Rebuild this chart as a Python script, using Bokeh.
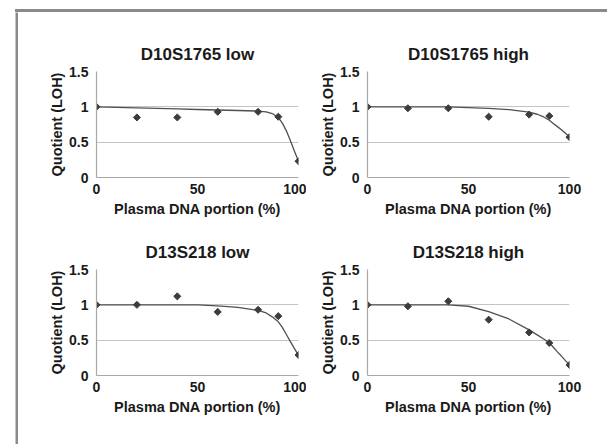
from bokeh.plotting import figure
from bokeh.layouts import row, column
from bokeh.models import FixedTicker, NumeralTickFormatter, Div
from bokeh.embed import file_html
from bokeh.resources import INLINE

# ---- data ----
x_points = [0, 20, 40, 60, 80, 90, 100]
d10_low = [1.0, 0.85, 0.85, 0.93, 0.93, 0.86, 0.23]
d10_high = [1.0, 0.98, 0.98, 0.86, 0.89, 0.87, 0.57]
d13_low = [1.0, 1.0, 1.12, 0.90, 0.93, 0.84, 0.29]
d13_high = [1.0, 0.98, 1.05, 0.79, 0.61, 0.46, 0.15]

x_curve = [0, 20, 40, 50, 60, 70, 80, 84, 87, 90, 92, 94, 96, 98, 100]
d10_low_fit = [1.0, 0.985, 0.97, 0.962, 0.955, 0.948, 0.94, 0.93, 0.905, 0.85, 0.77, 0.66, 0.52, 0.37, 0.23]
d10_high_fit = [1.0, 1.0, 0.998, 0.99, 0.978, 0.96, 0.925, 0.895, 0.86, 0.81, 0.765, 0.72, 0.675, 0.625, 0.573]
d13_low_fit = [1.0, 1.0, 1.0, 0.998, 0.985, 0.965, 0.92, 0.885, 0.83, 0.76, 0.68, 0.58, 0.48, 0.38, 0.286]
d13_high_fit = [1.0, 1.0, 1.0, 0.98, 0.905, 0.8, 0.645, 0.575, 0.52, 0.465, 0.40, 0.335, 0.275, 0.21, 0.15]

titles = ["D10S1765 low", "D10S1765 high", "D13S218 low", "D13S218 high"]
x_label = "Plasma DNA portion (%)"
y_label = "Quotient (LOH)"
x_ticks = [0, 50, 100]
y_ticks = [0, 0.5, 1, 1.5]

FONT = "Liberation Sans"
TEXT = "#1a1a1a"
BORDER = "#8a8a8a"


def make_plot(title, pts, fit, left, right, top, bottom):
    p = figure(output_backend="svg", toolbar_location=None,
               frame_width=202, frame_height=106,
               min_border_left=left, min_border_right=right,
               min_border_top=top, min_border_bottom=bottom,
               x_range=(0, 100), y_range=(0, 1.5), title=title)
    p.outline_line_color = None
    p.background_fill_color = "white"
    p.border_fill_color = "white"
    p.title.align = "center"
    p.title.text_font = FONT
    p.title.text_font_style = "bold"
    p.title.text_font_size = "17px"
    p.title.text_color = TEXT
    p.title.standoff = 15

    for ax in (p.xaxis[0], p.yaxis[0]):
        ax.major_tick_in = 0
        ax.major_tick_out = 0
        ax.minor_tick_in = 0
        ax.minor_tick_out = 0
        ax.axis_line_color = "#a8a8a8"
        ax.axis_line_width = 1.2
        ax.major_label_text_font = FONT
        ax.major_label_text_font_style = "bold"
        ax.major_label_text_font_size = "14px"
        ax.major_label_text_color = TEXT
        ax.axis_label_text_font = FONT
        ax.axis_label_text_font_style = "bold"
        ax.axis_label_text_font_size = "14.5px"
        ax.axis_label_text_color = TEXT

    p.xaxis.ticker = FixedTicker(ticks=x_ticks)
    p.yaxis.ticker = FixedTicker(ticks=y_ticks)
    p.yaxis.formatter = NumeralTickFormatter(format="0.[0]")
    p.xaxis.axis_label = x_label
    p.yaxis.axis_label = y_label
    p.xaxis.major_label_standoff = 6
    p.xaxis.axis_label_standoff = 4
    p.yaxis.major_label_standoff = 8
    p.yaxis.axis_label_standoff = 1

    p.xgrid.grid_line_color = None
    p.ygrid.grid_line_color = "#c4c4c4"
    p.ygrid.grid_line_width = 1.2

    p.line(x_curve, fit, line_color="#505050", line_width=1.3)
    p.scatter(x_points, pts, marker="square", size=5, angle=0.785398,
              fill_color="#3c3c3c", line_color="#3c3c3c", line_width=1)
    return p


def bar(w, h, color=BORDER):
    b = figure(output_backend="svg", toolbar_location=None, width=w, height=h,
               min_border=0, x_axis_type=None, y_axis_type=None, title=None)
    b.outline_line_color = None
    b.background_fill_color = color
    b.border_fill_color = color
    b.grid.visible = False
    return b


p1 = make_plot(titles[0], d10_low, d10_low_fit, 78, 8, 59, 45)
p2 = make_plot(titles[1], d10_high, d10_high_fit, 61, 38, 59, 45)
p3 = make_plot(titles[2], d13_low, d13_low_fit, 78, 8, 47, 50)
p4 = make_plot(titles[3], d13_high, d13_high_fit, 61, 38, 47, 50)

grid = column(row(p1, p2), row(p3, p4))
# gray frame line along the top and the left of the panel
top_line = Div(text="", width=592, height=3, margin=(0, 0, 0, 0),
               styles={"background-color": BORDER, "overflow": "hidden"})
top = row(bar(15, 12, "white"), column(bar(592, 9, "white"), top_line))
body = row(bar(15, 432, "white"), bar(3, 432), grid)
layout = column(top, body)

open("out.html", "w").write(file_html(layout, INLINE))
